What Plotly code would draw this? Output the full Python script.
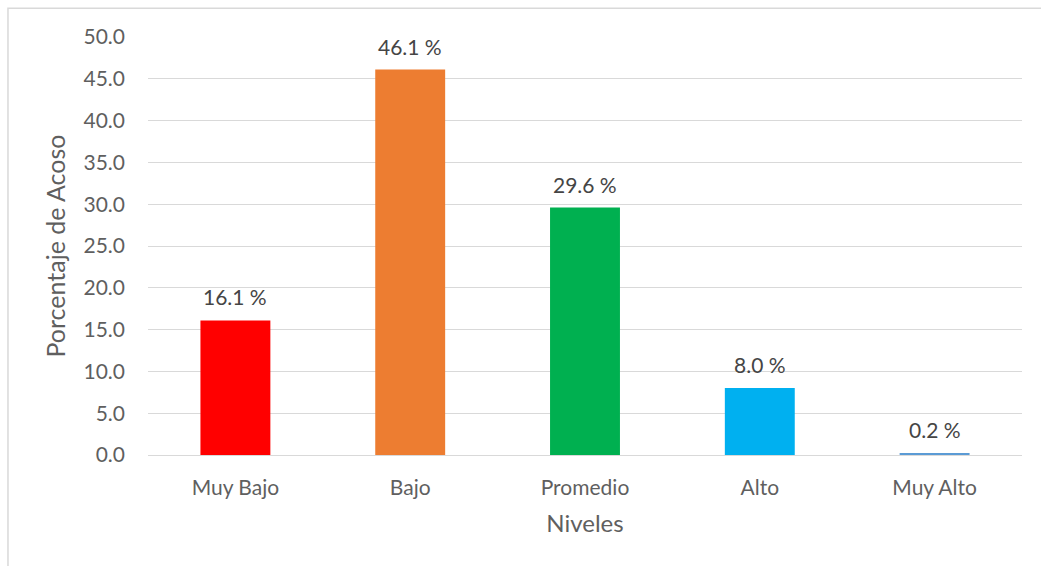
import plotly.graph_objects as go

niveles = ["Muy Bajo", "Bajo", "Promedio", "Alto", "Muy Alto"]
porcentajes = [16.1, 46.1, 29.6, 8.0, 0.2]
colores = ["#FF0000", "#ED7D31", "#00B050", "#00B0F0", "#5B9BD5"]
y_ticks = [0, 5, 10, 15, 20, 25, 30, 35, 40, 45, 50]

font_fam = "Lato, Open Sans, sans-serif"
txt_color = "#5f5f5f"

fig = go.Figure()
fig.add_trace(go.Bar(
    x=niveles,
    y=porcentajes,
    marker=dict(color=colores, line=dict(width=0)),
    width=0.4,
    hoverinfo="skip",
))

for cat, val in zip(niveles, porcentajes):
    fig.add_annotation(
        x=cat, y=val, text=f"{val:.1f} %", showarrow=False,
        yanchor="bottom", yshift=9,
        font=dict(family=font_fam, size=21, color="#454545"),
    )

# outer chart frame
fig.add_shape(type="rect", xref="paper", yref="paper",
              x0=-0.1602, x1=1.2, y0=-0.5, y1=1.0685,
              line=dict(color="#d9d9d9", width=1.5), layer="below")

fig.update_layout(
    width=1041, height=566,
    margin=dict(l=148, r=19, t=37, b=111),
    paper_bgcolor="white", plot_bgcolor="white",
    showlegend=False,
    font=dict(family=font_fam, size=21, color=txt_color),
    xaxis=dict(
        showgrid=False, zeroline=False, showline=False,
        ticks="", ticklabelstandoff=18,
        title=dict(text="Niveles", font=dict(size=24, color=txt_color), standoff=17),
        tickfont=dict(size=21, color=txt_color),
    ),
    yaxis=dict(
        range=[0, 50], tickvals=y_ticks,
        ticktext=[f"{v:.1f}" for v in y_ticks],
        showgrid=True, gridcolor="#d9d9d9", gridwidth=1.3,
        zeroline=True, zerolinecolor="#d9d9d9", zerolinewidth=1.3,
        showline=False, ticks="", ticklabelstandoff=22,
        title=dict(text="Porcentaje de Acoso", font=dict(size=25, color=txt_color), standoff=10),
        tickfont=dict(size=21, color=txt_color),
    ),
)

fig.write_html("out.html")
